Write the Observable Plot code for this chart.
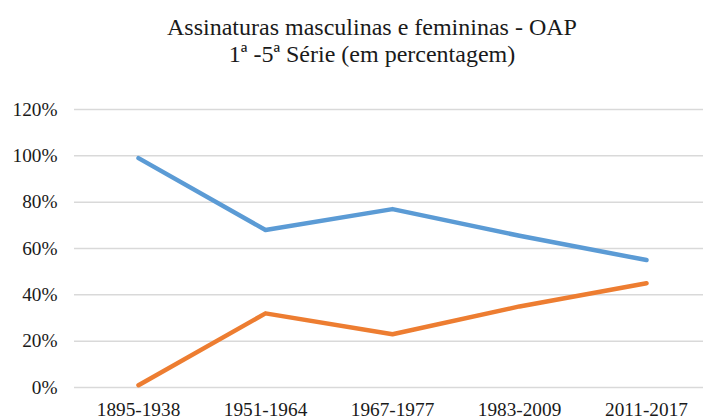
<!DOCTYPE html>
<html>
<head>
<meta charset="utf-8">
<script src="https://cdn.jsdelivr.net/npm/d3@7"></script>
<script src="https://cdn.jsdelivr.net/npm/@observablehq/plot@0.6"></script>
<style>
  html, body { margin: 0; padding: 0; background: #fff; }
  #wrap { width: 703px; height: 419px; overflow: hidden; position: relative; }
  #title {
    box-sizing: border-box; width: 703px; height: 80px;
    padding-top: 14px; padding-left: 41px;
    font-family: "Liberation Serif", "Times New Roman", serif;
    font-size: 24px; line-height: 27px; color: #1a1a1a; text-align: center;
  }
</style>
</head>
<body>
<div id="wrap">
  <div id="title">Assinaturas masculinas e femininas - OAP<br>1ª -5ª Série (em percentagem)</div>
  <div id="chart"></div>
</div>
<script>
const categories = ["1895-1938", "1951-1964", "1967-1977", "1983-2009", "2011-2017"];
const masculinas = [99, 68, 77, 65.5, 55];
const femininas = [1, 32, 23, 35, 45];
const yTicks = [0, 20, 40, 60, 80, 100, 120];

const data = [
  ...categories.map((c, i) => ({cat: c, value: masculinas[i], serie: "Masculinas"})),
  ...categories.map((c, i) => ({cat: c, value: femininas[i], serie: "Femininas"}))
];

const chart = Plot.plot({
  width: 703,
  height: 339,
  marginTop: 29,
  marginBottom: 32,
  marginLeft: 74,
  marginRight: 0,
  style: {fontFamily: "'Liberation Serif', 'Times New Roman', serif", color: "#1a1a1a", overflow: "visible"},
  x: {type: "point", domain: categories, range: [137, 647], padding: 0},
  y: {domain: [0, 120]},
  color: {domain: ["Masculinas", "Femininas"], range: ["#5b9bd5", "#ed7d31"]},
  marks: [
    Plot.gridY(yTicks, {stroke: "#d9d9d9", strokeOpacity: 1, strokeWidth: 1.5}),
    Plot.axisY(yTicks, {tickSize: 0, tickPadding: 17, fontSize: 19.3, tickFormat: d => d + "%", label: null}),
    Plot.axisX({tickSize: 0, tickPadding: 15, fontSize: 19.3, label: null}),
    Plot.line(data, {x: "cat", y: "value", z: "serie", stroke: "serie", strokeWidth: 4.5, strokeLinecap: "round", strokeLinejoin: "round"})
  ]
});
document.getElementById("chart").appendChild(chart);
</script>
</body>
</html>
